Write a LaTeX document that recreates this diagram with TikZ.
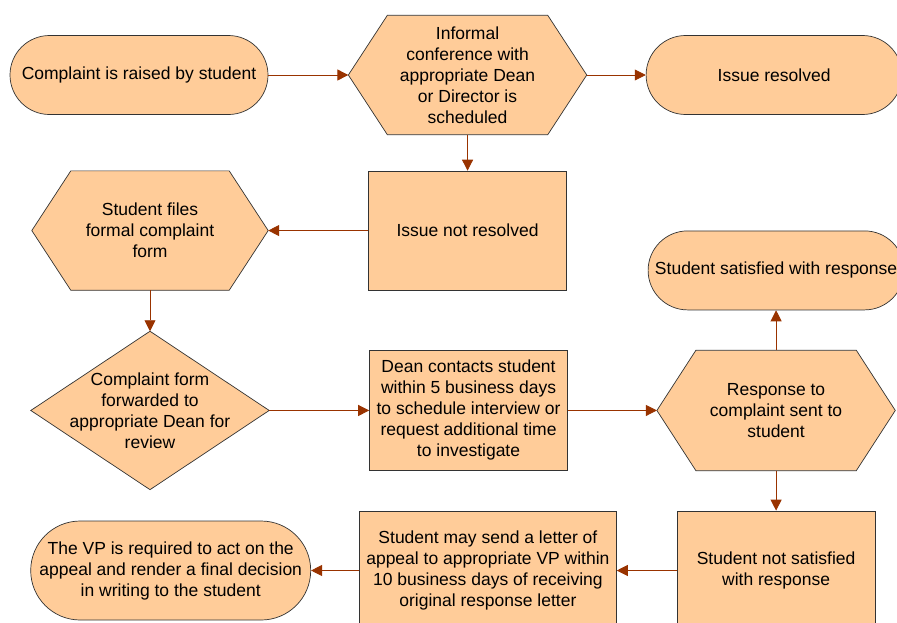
\documentclass[tikz,border=0pt]{standalone}
\usepackage{fontspec}
\setmainfont{Liberation Sans}
\usetikzlibrary{positioning}
\usetikzlibrary{arrows.meta}
\usetikzlibrary{backgrounds}

\definecolor{peach}{RGB}{255,204,153}
\definecolor{flowbrown}{RGB}{153,51,0}

\tikzset{
  boxline/.style = {draw=black!80, line width=0.7pt, fill=peach},
  stadium/.style = {boxline, rounded corners=39.5pt, minimum height=79pt, align=center},
  taskbox/.style = {boxline, minimum width=198pt, minimum height=119pt, align=center},
  hexbox/.style = {minimum width=238pt, minimum height=119pt, align=center, inner sep=0pt},
  flow/.style = {draw=flowbrown, line width=0.9pt, -{Triangle[length=11pt,width=11pt]}}
}

\begin{document}
\begin{tikzpicture}[x=1pt, y=1pt, font=\fontsize{17.5}{21}\selectfont]
  \useasboundingbox (0,0) rectangle (897,-622);
  % top row
  \node[stadium, minimum width=258pt] (raised) at (139,-75) {Complaint is raised by student};
  \node[hexbox] (informal) [right=80pt of raised] {Informal\\conference with\\appropriate Dean\\or Director is\\scheduled};
  \node[stadium, minimum width=256pt] (resolved) [right=59pt of informal] {Issue resolved};
  % second row
  \node[taskbox] (notres) [below=36pt of informal] {Issue not resolved};
  \node[hexbox, minimum width=236pt] (files) [left=100pt of notres] {Student files\\formal complaint\\form};
  % third row
  \node[hexbox, minimum height=158pt] (forwarded) [below=41pt of files] {Complaint form\\forwarded to\\appropriate Dean for\\review};
  \node[taskbox, minimum height=120pt] (dean) [right=100pt of forwarded] {Dean contacts student\\within 5 business days\\to schedule interview or\\request additional time\\to investigate};
  \node[hexbox, minimum height=120pt] (response) [right=89pt of dean] {Response to\\complaint sent to\\student};
  \node[stadium, minimum width=256pt] (satisfied) [above=40pt of response] {Student satisfied with response};
  % bottom row
  \node[taskbox] (notsat) [below=40pt of response] {Student not satisfied\\with response};
  \node[taskbox, minimum width=257pt] (appeal) [left=60pt of notsat] {Student may send a letter of\\appeal to appropriate VP within\\10 business days of receiving\\original response letter};
  \node[stadium, minimum width=280pt, minimum height=99pt, rounded corners=49.5pt] (vp) [left=48pt of appeal] {The VP is required to act on the\\appeal and render a final decision\\in writing to the student};

  \begin{scope}[on background layer]
    \foreach \h in {informal,files,response}
      \draw[boxline] (\h.west) -- ([xshift=39pt]\h.north west) -- ([xshift=-39pt]\h.north east)
        -- (\h.east) -- ([xshift=-39pt]\h.south east) -- ([xshift=39pt]\h.south west) -- cycle;
    \draw[boxline] (forwarded.north) -- (forwarded.east) -- (forwarded.south) -- (forwarded.west) -- cycle;
  \end{scope}

  \draw[flow] (raised) -- (informal);
  \draw[flow] (informal) -- (resolved);
  \draw[flow] (informal) -- (notres);
  \draw[flow] (notres) -- (files);
  \draw[flow] (files) -- (forwarded);
  \draw[flow] (forwarded) -- (dean);
  \draw[flow] (dean) -- (response);
  \draw[flow] (response) -- (satisfied);
  \draw[flow] (response) -- (notsat);
  \draw[flow] (notsat) -- (appeal);
  \draw[flow] (appeal) -- (vp);
\end{tikzpicture}
\end{document}
